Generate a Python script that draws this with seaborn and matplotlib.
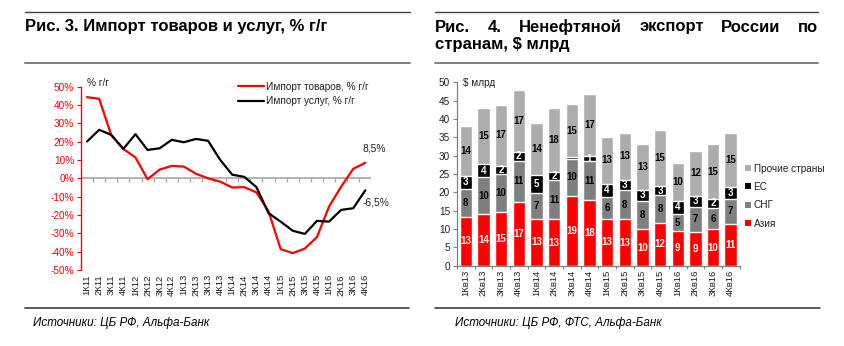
import numpy as np
import pandas as pd
import matplotlib
matplotlib.use("Agg")
import matplotlib.pyplot as plt
from matplotlib.lines import Line2D
from matplotlib.patches import Patch
import seaborn as sns

# ---------------- data ----------------
quarters_left = ["1К11", "2К11", "3К11", "4К11", "1К12", "2К12", "3К12", "4К12",
                 "1К13", "2К13", "3К13", "4К13", "1К14", "2К14", "3К14", "4К14",
                 "1К15", "2К15", "3К15", "4К15", "1К16", "2К16", "3К16", "4К16"]
import_goods = [44.3, 43.4, 23.6, 16.0, 11.4, -0.5, 4.8, 6.8, 6.4, 2.5, 0.0, -1.8,
                -5.0, -4.8, -7.7, -18.0, -38.6, -40.8, -38.3, -32.0, -15.4, -4.5, 5.2, 8.5]
import_services = [20.1, 26.5, 23.7, 16.1, 24.1, 15.5, 16.4, 21.0, 19.7, 21.5, 20.5, 10.1,
                   2.0, 0.8, -4.8, -19.0, -23.6, -28.6, -30.3, -23.2, -23.6, -17.2, -16.3, -6.5]
left_ticks = [-50, -40, -30, -20, -10, 0, 10, 20, 30, 40, 50]

quarters_right = ["1Кв13", "2Кв13", "3Кв13", "4Кв13", "1Кв14", "2Кв14", "3Кв14", "4Кв14",
                  "1Кв15", "2Кв15", "3Кв15", "4Кв15", "1Кв16", "2Кв16", "3Кв16", "4Кв16"]
asia = [13.4, 14.1, 14.6, 17.4, 12.8, 12.6, 19.0, 17.9, 12.8, 12.6, 9.9, 11.6, 9.4, 9.2, 9.9, 11.3]
cis = [7.6, 10.0, 10.4, 11.2, 6.9, 10.8, 10.2, 10.6, 5.9, 8.0, 7.8, 7.6, 4.7, 6.9, 5.9, 7.0]
eu = [3.4, 3.6, 2.2, 2.4, 4.9, 2.1, 0.3, 1.4, 3.7, 2.9, 2.9, 2.6, 3.6, 2.9, 2.4, 3.2]
other = [13.7, 15.3, 16.7, 16.8, 14.4, 17.6, 14.6, 17.0, 12.6, 12.7, 12.6, 15.1, 10.2, 12.3, 14.9, 14.8]
right_ticks = [0, 5, 10, 15, 20, 25, 30, 35, 40, 45, 50]

series_names = ["Азия", "СНГ", "ЕС", "Прочие страны"]
series_colors = ["#FF0000", "#7F7F7F", "#000000", "#ADADAD"]
label_colors = ["white", "black", "white", "black"]

# ---------------- style ----------------
sns.set_theme(style="white")
plt.rcParams["font.family"] = ["Liberation Sans", "DejaVu Sans"]

W, H = 844, 346
fig = plt.figure(figsize=(W / 100, H / 100), dpi=100)


def fx(px):
    return px / W


def fy(py):
    return 1 - py / H


# ---------------- headers / rules ----------------
def hrule(x0, x1, y, color, lw):
    fig.add_artist(Line2D([fx(x0), fx(x1)], [fy(y), fy(y)], color=color, lw=lw,
                          transform=fig.transFigure))


hrule(25, 410, 12.3, "#404040", 1.0)
hrule(25, 410, 62.7, "#808080", 1.4)
hrule(25, 409, 308.3, "#404040", 1.2)
hrule(435, 818, 12.3, "#404040", 1.0)
hrule(435, 818, 62.7, "#808080", 1.4)
hrule(435, 820, 308.3, "#404040", 1.2)

title_font = dict(fontsize=12, fontweight="bold", color="black")
fig.text(fx(25), fy(27), "Рис. 3. Импорт товаров и услуг, % г/г", ha="left", va="center", **title_font)

# justified first line of right title
words = ["Рис.", "4.", "Ненефтяной", "экспорт", "России", "по"]
renderer = fig.canvas.get_renderer()
texts = [fig.text(0, fy(27), w_, ha="left", va="center", **title_font) for w_ in words]
widths = [t.get_window_extent(renderer).width for t in texts]
x_start, x_end = 435, 818
gap = (x_end - x_start - sum(widths)) / (len(words) - 1)
cur = x_start
for t, wd in zip(texts, widths):
    t.set_x(fx(cur))
    cur += wd + gap
fig.text(fx(435), fy(45), "странам, $ млрд", ha="left", va="center", **title_font)

src_font = dict(fontsize=8.4, style="italic", color="black",
                family=["Liberation Sans Narrow", "Liberation Sans", "DejaVu Sans"])
fig.text(fx(33), fy(323), "Источники: ЦБ РФ, Альфа-Банк", ha="left", va="center", **src_font)
fig.text(fx(455), fy(323), "Источники: ЦБ РФ, ФТС, Альфа-Банк", ha="left", va="center", **src_font)

# ---------------- left chart ----------------
axL = fig.add_axes([fx(81), fy(270), fx(371.4) - fx(81), fy(86.7) - fy(270)])
n = len(quarters_left)
df_left = pd.DataFrame({
    "pos": np.tile(np.arange(n), 2),
    "value": import_goods + import_services,
    "series": ["Импорт товаров, % г/г"] * n + ["Импорт услуг, % г/г"] * n,
})
sns.lineplot(data=df_left, x="pos", y="value", hue="series",
             palette=["#FF0000", "#000000"], linewidth=1.6, ax=axL, legend=False)
axL.set_xlim(-0.5, n - 0.5)
axL.set_ylim(-50, 50)
axL.set_yticks(left_ticks)
axL.set_yticklabels([f"{t}%" for t in left_ticks], color="#FF0000", fontsize=7.2)
axL.set_xticks(np.arange(n))
axL.set_xticklabels(quarters_left, rotation=90, fontsize=6.8, color="#222222")
axL.tick_params(axis="x", length=0, pad=3)
axL.tick_params(axis="y", length=3, width=0.8, color="#FF0000", direction="out", pad=2, left=True)
axL.set_xlabel("")
axL.set_ylabel("")
for s in ["top", "right", "bottom"]:
    axL.spines[s].set_visible(False)
axL.spines["left"].set_color("#FF0000")
axL.spines["left"].set_linewidth(1.0)
axL.axhline(0, color="#A6A6A6", lw=1.2, zorder=1)
axL.vlines(np.arange(n) + 0.5, -1.8, 0, color="#A6A6A6", lw=0.9, zorder=1)
axL.grid(False)

# end labels
for vals, dy in [(import_goods, 10.5), (import_services, -9)]:
    v = vals[-1]
    axL.annotate(f"{v:.1f}%".replace(".", ","), xy=(n - 1, v), xytext=(-2, dy),
                 textcoords="offset points", ha="left", va="center",
                 fontsize=7.4, color="#222222", annotation_clip=False)

fig.text(fx(87), fy(83), "% г/г", ha="left", va="center", fontsize=7.2, color="#222222")

legL = fig.legend(handles=[Line2D([], [], color="#FF0000", lw=1.6),
                           Line2D([], [], color="#000000", lw=1.6)],
                  labels=["Импорт товаров, % г/г", "Импорт услуг, % г/г"],
                  loc="upper left", bbox_to_anchor=(fx(238), fy(81.5)), frameon=False,
                  fontsize=7.2, handlelength=2.6, handletextpad=0.2, labelspacing=0.5,
                  borderaxespad=0, borderpad=0)
for t in legL.get_texts():
    t.set_color("#222222")

# ---------------- right chart ----------------
axR = fig.add_axes([fx(457), fy(265.7), fx(739.5) - fx(457), fy(82.3) - fy(265.7)])
m = len(quarters_right)
stack = np.array([asia, cis, eu, other])
cum = np.cumsum(stack, axis=0)
# draw cumulative totals from the top down so each layer covers the previous
for i in range(len(series_names) - 1, -1, -1):
    df_r = pd.DataFrame({"quarter": quarters_right, "value": cum[i]})
    sns.barplot(data=df_r, x="quarter", y="value", color=series_colors[i],
                saturation=1, width=0.7, ax=axR, order=quarters_right)
    for j in range(m):
        seg = stack[i, j]
        if seg >= 1:
            center = cum[i, j] - seg / 2
            axR.text(j, center, f"{seg:.0f}", ha="center", va="center",
                     fontsize=7.0, fontweight="bold", color=label_colors[i])

axR.set_xlim(-0.5, m - 0.5)
axR.set_ylim(0, 50)
axR.set_yticks(right_ticks)
axR.set_yticklabels([str(t) for t in right_ticks], fontsize=7.2, color="#222222")
axR.set_xticks(np.arange(m))
axR.set_xticklabels(quarters_right, rotation=90, fontsize=6.8, color="#222222")
axR.tick_params(axis="x", length=0, pad=3)
axR.tick_params(axis="y", length=3, width=0.8, color="#808080", direction="out", pad=2, left=True)
axR.set_xlabel("")
axR.set_ylabel("")
for s in ["top", "right"]:
    axR.spines[s].set_visible(False)
for s in ["left", "bottom"]:
    axR.spines[s].set_color("#808080")
    axR.spines[s].set_linewidth(0.9)
axR.vlines(np.arange(m + 1) - 0.5, -0.9, 0, color="#808080", lw=0.8, clip_on=False)
axR.grid(False)

fig.text(fx(463), fy(83), "$ млрд", ha="left", va="center", fontsize=7.2, color="#222222")

handles = [Patch(facecolor=c, edgecolor="none") for c in series_colors][::-1]
legR = fig.legend(handles=handles, labels=series_names[::-1], loc="upper left",
                  bbox_to_anchor=(fx(745), fy(163.5)), frameon=False, fontsize=7.2,
                  handlelength=0.55, handleheight=0.55, handletextpad=0.3,
                  labelspacing=0.85, borderaxespad=0, borderpad=0)
for t in legR.get_texts():
    t.set_color("#222222")

fig.savefig("out.png", dpi=100)
